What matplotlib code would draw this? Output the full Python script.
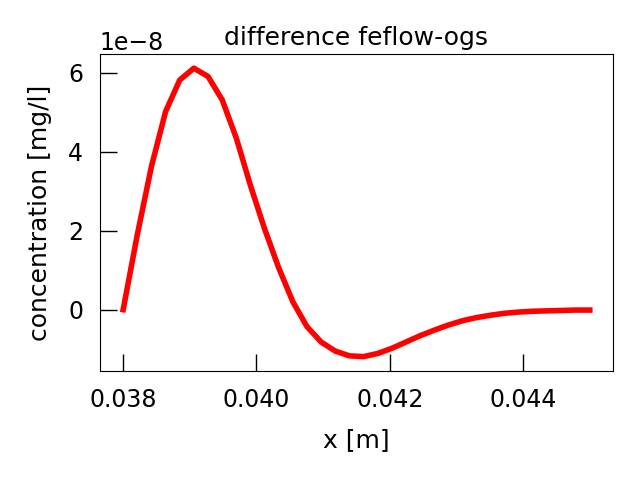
import numpy as np
import matplotlib
matplotlib.use('agg')
import matplotlib.pyplot as plt

# x positions (m) and concentration difference (units of 1e-8 mg/l)
x = np.linspace(0.038, 0.045, 34)
diff = np.array([
	0.0, 1.9, 3.63, 5.02, 5.82, 6.12, 5.91, 5.32, 4.35, 3.15,
	2.05, 1.06, 0.2, -0.43, -0.82, -1.05, -1.17, -1.19, -1.11, -0.98,
	-0.82, -0.66, -0.52, -0.39, -0.28, -0.2, -0.14, -0.09, -0.06, -0.04,
	-0.03, -0.02, -0.01, -0.01,
]) * 1e-8

def main():
	fig = plt.figure(figsize=(6.4, 4.8), dpi=100)
	ax = fig.add_axes([0.156, 0.227, 0.802, 0.661])

	ax.plot(x, diff, color='red', linewidth=4)

	ax.set_xticks([0.038, 0.040, 0.042, 0.044])
	ax.set_yticks(np.array([0, 2, 4, 6]) * 1e-8)
	ax.tick_params(direction='in', length=12, width=1, pad=12, labelsize=17)
	ax.yaxis.get_offset_text().set_fontsize(17)
	ax.set_xlabel('x [m]', fontsize=18, labelpad=12)
	ax.set_ylabel('concentration [mg/l]', fontsize=18, labelpad=12)
	ax.set_title('difference feflow-ogs', fontsize=18)

	fig.savefig('out.png', dpi=100)

main()
